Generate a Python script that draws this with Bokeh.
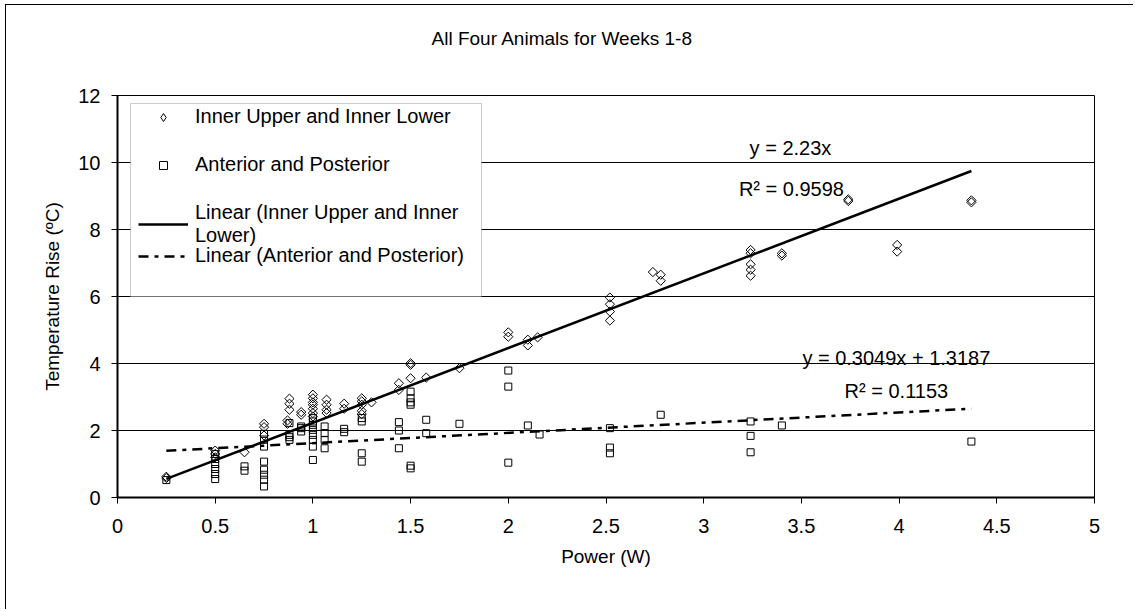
from bokeh.plotting import figure
from bokeh.models import Range1d, FixedTicker, Legend, LegendItem, Label, BoxAnnotation, Title
from bokeh.embed import file_html
from bokeh.resources import INLINE

FONT = "Liberation Sans"

# ---- data ----
inner_x = [0.25, 0.25,
           0.5, 0.5, 0.5,
           0.65,
           0.75, 0.75, 0.75,
           0.87, 0.87,
           0.88, 0.88, 0.88,
           0.94, 0.94,
           1.0, 1.0, 1.0, 1.0, 1.0, 1.0, 1.0,
           1.07, 1.07, 1.07, 1.07,
           1.16, 1.16,
           1.25, 1.25, 1.25, 1.25, 1.25,
           1.3,
           1.44, 1.44,
           1.5, 1.5, 1.5,
           1.58,
           1.75,
           2.0, 2.0,
           2.1, 2.1,
           2.15,
           2.52, 2.52, 2.52, 2.52,
           2.74,
           2.78, 2.78,
           3.24, 3.24, 3.24, 3.24, 3.24,
           3.4, 3.4,
           3.74, 3.74,
           3.99, 3.99,
           4.37, 4.37]
inner_y = [0.58, 0.62,
           1.4, 1.3, 1.2,
           1.35,
           2.2, 2.1, 1.85,
           2.3, 2.2,
           2.95, 2.8, 2.62,
           2.55, 2.47,
           3.07, 2.96, 2.84, 2.77, 2.65, 2.52, 2.42,
           2.92, 2.77, 2.62, 2.52,
           2.8, 2.65,
           2.96, 2.87, 2.77, 2.59, 2.49,
           2.84,
           3.41, 3.21,
           4.01, 3.96, 3.56,
           3.58,
           3.86,
           4.93, 4.8,
           4.71, 4.54,
           4.78,
           5.97, 5.77, 5.55, 5.28,
           6.73,
           6.65, 6.47,
           7.39, 7.29, 6.96, 6.80, 6.62,
           7.29, 7.22,
           8.9, 8.85,
           7.54, 7.34,
           8.87, 8.81]

ap_x = [0.25,
        0.5, 0.5, 0.5, 0.5, 0.5, 0.5,
        0.65, 0.65,
        0.75, 0.75, 0.75, 0.75, 0.75, 0.75, 0.75, 0.75,
        0.88, 0.88, 0.88, 0.88,
        0.94, 0.94, 0.94,
        1.0, 1.0, 1.0, 1.0, 1.0, 1.0, 1.0, 1.0,
        1.06, 1.06, 1.06, 1.06,
        1.16, 1.16,
        1.25, 1.25, 1.25, 1.25,
        1.44, 1.44, 1.44,
        1.5, 1.5, 1.5, 1.5, 1.5, 1.5,
        1.58, 1.58,
        1.75,
        2.0, 2.0, 2.0,
        2.1,
        2.16,
        2.52, 2.52, 2.52,
        2.78,
        3.24, 3.24, 3.24,
        3.4,
        4.37]
ap_y = [0.52,
        1.3, 1.15, 1.0, 0.85, 0.7, 0.55,
        0.93, 0.8,
        1.9, 1.73, 1.52, 1.07, 0.83, 0.68, 0.53, 0.33,
        2.22, 1.87, 1.8, 1.72,
        2.12, 2.07, 1.97,
        2.37, 2.27, 2.17, 2.02, 1.87, 1.72, 1.52, 1.12,
        2.12, 1.92, 1.72, 1.47,
        2.05, 1.95,
        2.37, 2.27, 1.32, 1.07,
        2.25, 2.0, 1.47,
        3.16, 2.96, 2.84, 2.77, 0.95, 0.87,
        2.32, 1.92,
        2.2,
        3.79, 3.31, 1.04,
        2.15,
        1.88,
        2.07, 1.49, 1.32,
        2.47,
        2.27, 1.84, 1.35,
        2.15,
        1.67]

# trendline parameters (as printed on the chart)
inner_slope, inner_icpt = 2.23, 0.0
ap_slope, ap_icpt = 0.3049, 1.3187
eq_texts = ["y = 2.23x", "R\u00b2 = 0.9598", "y = 0.3049x + 1.3187", "R\u00b2 = 0.1153"]

x_ticks = [0, 0.5, 1, 1.5, 2, 2.5, 3, 3.5, 4, 4.5, 5]
x_tick_labels = ["0", "0.5", "1", "1.5", "2", "2.5", "3", "3.5", "4", "4.5", "5"]
y_ticks = [0, 2, 4, 6, 8, 10, 12]

title_text = "All Four Animals for Weeks 1-8"
series_names = ["Inner Upper and Inner Lower", "Anterior and Posterior",
                "Linear (Inner Upper and Inner\nLower)", "Linear (Anterior and Posterior)"]

# ---- figure (offset by a CSS margin so the outer chart border sits at left/top) ----
p = figure(width=1128, height=605, output_backend="svg", toolbar_location=None, title=None,
           x_range=Range1d(0, 5), y_range=Range1d(0, 12),
           min_border_left=111, min_border_right=40, min_border_top=90, min_border_bottom=113)
p.styles = {"border-left": "1.5px solid black", "border-top": "1.5px solid black",
            "margin-left": "5px", "margin-top": "4px"}
p.background_fill_color = "white"
p.border_fill_color = "white"
p.outline_line_color = "black"
p.outline_line_width = 1

# chart title: a thin spacer title next to the frame lifts the real title into the top margin
spacer = Title(text=" ", text_font=FONT, text_font_size="1px", standoff=44)
p.add_layout(spacer, "above")
main_title = Title(text=title_text, align="left", offset=314, standoff=0,
                   text_font=FONT, text_font_size="19px", text_font_style="normal",
                   text_color="black")
p.add_layout(main_title, "above")

p.xaxis.ticker = FixedTicker(ticks=x_ticks)
p.xaxis.major_label_overrides = {float(t): l for t, l in zip(x_ticks, x_tick_labels)}
p.yaxis.ticker = FixedTicker(ticks=y_ticks)
p.xaxis.axis_label = "Power (W)"
p.yaxis.axis_label = "Temperature Rise (\u00baC)"
for ax in (p.xaxis, p.yaxis):
    ax.axis_line_width = 2
    ax.axis_line_color = "black"
    ax.major_tick_line_color = "black"
    ax.major_tick_out = 6
    ax.major_tick_in = 0
    ax.minor_tick_line_color = None
    ax.major_label_text_font = FONT
    ax.major_label_text_font_size = "20px"
    ax.major_label_text_color = "black"
    ax.axis_label_text_font = FONT
    ax.axis_label_text_font_size = "19px"
    ax.axis_label_text_font_style = "normal"
    ax.axis_label_text_color = "black"
p.yaxis.major_label_standoff = 11
p.yaxis.axis_label_standoff = 12
p.xaxis.major_label_standoff = 15
p.xaxis.axis_label_standoff = 10

p.xgrid.visible = False
p.ygrid.ticker = FixedTicker(ticks=y_ticks)
p.ygrid.grid_line_color = "black"
p.ygrid.grid_line_width = 1

r_inner = p.scatter(inner_x, inner_y, marker="square", angle=0.7854, size=6.5, fill_alpha=0,
                    line_color="black", line_width=1)
r_ap = p.scatter(ap_x, ap_y, marker="square", size=7, fill_alpha=0,
                 line_color="black", line_width=1)
# legend swatch for the diamond series (the legend does not rotate markers); not drawn in the plot
r_inner_key = p.scatter(inner_x, inner_y, marker="diamond", size=9, fill_alpha=0,
                        line_color="black", line_width=1, visible=False)

xi = [min(inner_x), max(inner_x)]
r_fit1 = p.line(xi, [inner_slope * v + inner_icpt for v in xi], line_color="black", line_width=2.5)
xa = [min(ap_x), max(ap_x)]
r_fit2 = p.line(xa, [ap_slope * v + ap_icpt for v in xa], line_color="black", line_width=2.5,
                line_dash="10 6 4 6")

# equations
eq_pos = [(3.444, 10.43), (3.449, 9.20), (3.986, 4.15), (3.986, 3.17)]
for txt, (lx, ly) in zip(eq_texts, eq_pos):
    p.add_layout(Label(x=lx, y=ly, text=txt, text_align="center", text_baseline="alphabetic",
                       text_font=FONT, text_font_size="20px", text_color="black"))

# legend box
legbox = BoxAnnotation(left=13, right=364, bottom=201, top=394,
                       left_units="screen", right_units="screen",
                       top_units="screen", bottom_units="screen",
                       fill_color="white", fill_alpha=1, line_color="#555555", line_width=1)
p.add_layout(legbox)


def style_legend(lg):
    lg.label_text_font = FONT
    lg.label_text_font_size = "20px"
    lg.label_text_color = "black"
    lg.label_text_line_height = 1.25
    lg.glyph_width = 50
    lg.glyph_height = 20
    lg.label_height = 20
    lg.spacing = 25
    lg.padding = 4
    lg.label_standoff = 7
    lg.border_line_alpha = 0
    lg.background_fill_alpha = 0
    lg.inactive_fill_alpha = 0


legend1 = Legend(items=[LegendItem(label=series_names[0], renderers=[r_inner_key]),
                        LegendItem(label=series_names[1], renderers=[r_ap]),
                        LegendItem(label=series_names[2], renderers=[r_fit1])],
                 location=(17, 246))
legend2 = Legend(items=[LegendItem(label=series_names[3], renderers=[r_fit2])],
                 location=(17, 226))
style_legend(legend1)
style_legend(legend2)
p.add_layout(legend1)
p.add_layout(legend2)

open("out.html", "w").write(file_html(p, INLINE))
